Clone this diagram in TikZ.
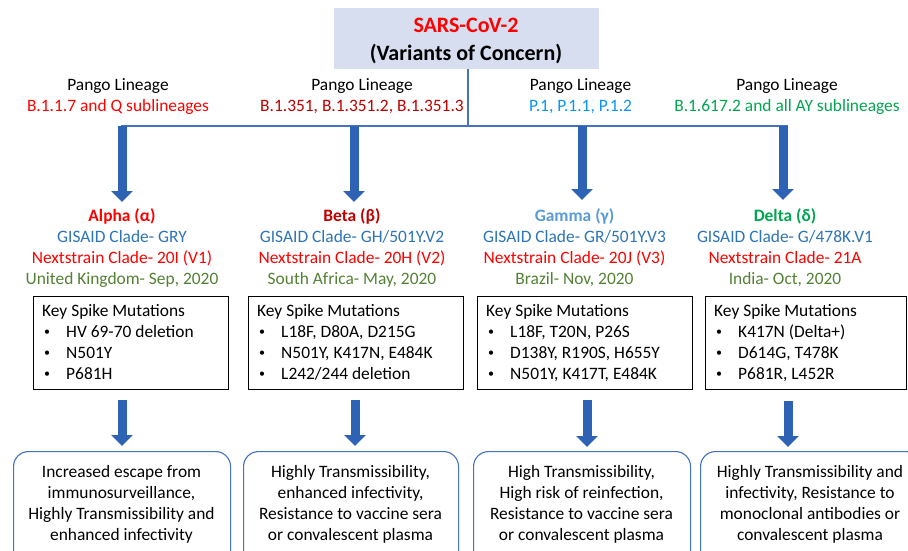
\documentclass[tikz,border=0pt]{standalone}
\usepackage{fontspec}
\setmainfont{Carlito}
\usetikzlibrary{arrows.meta}
\definecolor{titlefill}{HTML}{D7DEF0}
\definecolor{linkblue}{HTML}{4472C4}
\definecolor{arrowblue}{HTML}{2E62B5}
\definecolor{vred}{HTML}{FF0000}
\definecolor{dred}{HTML}{C00000}
\definecolor{gblue}{HTML}{2E75B6}
\definecolor{lblue}{HTML}{5B9BD5}
\definecolor{pblue}{HTML}{0A96EE}
\definecolor{vgreen}{HTML}{00A650}
\definecolor{olive}{HTML}{548235}
\newcommand\fs{\fontsize{17.4}{21}\selectfont}
\newcommand\mutbox[7]{%
  \node[mbox, minimum width={#3-#2}, minimum height=93, anchor=north west] (#1) at (#2,296) {};
  \node[ltxt] (#1k) at (#2+9,316) {Key Spike Mutations};
  \node[btxt] (#1b1) at (#2+11,335) {•};
  \node[ltxt] (#1i1) at (#2+33,337) {#4};
  \node[btxt] (#1b2) at (#2+11,356) {•};
  \node[ltxt] (#1i2) at (#2+33,358) {#5};
  \node[btxt] (#1b3) at (#2+11,377) {•};
  \node[ltxt] (#1i3) at (#2+33,379) {#6};
}
\newcommand\effbox[8]{%
  \node[ebox, minimum width={#3-#2}, minimum height=120, anchor=north west] (#1) at (#2,451) {};
  \node[ctxt] (#1l1) at ({(#2+#3)/2},477) {#4};
  \node[ctxt] (#1l2) at ({(#2+#3)/2},498) {#5};
  \node[ctxt] (#1l3) at ({(#2+#3)/2},519) {#6};
  \node[ctxt] (#1l4) at ({(#2+#3)/2},540) {#7};
}
\newcommand\variant[7]{%
  \node[ctxt, font=\fs\bfseries, text=#3] (#1n) at (#2,221) {#4};
  \node[ctxt, text=gblue] (#1g) at (#2,242) {GISAID Clade- #5};
  \node[ctxt, text=vred] (#1s) at (#2,263) {Nextstrain Clade- #6};
  \node[ctxt, text=olive] (#1c) at (#2,284) {#7};
}
\newcommand\pango[4]{%
  \node[ctxt] (#1p) at (#2,91) {Pango Lineage};
  \node[ctxt, text=#3] (#1q) at (#2,111) {#4};
}
\begin{document}
\begin{tikzpicture}[x=1pt,y=-1pt,
  ltxt/.style={anchor=base west, inner sep=0pt, font=\fs},
  btxt/.style={anchor=base west, inner sep=0pt, font=\fontsize{12}{14}\selectfont},
  ctxt/.style={anchor=base, inner sep=0pt, font=\fs},
  mbox/.style={draw=black, line width=1.1pt, inner sep=0pt},
  ebox/.style={draw=linkblue, line width=1.1pt, rounded corners=15pt, inner sep=0pt},
  bigarrow/.style={draw=arrowblue, line width=9pt, -{Triangle[width=21pt,length=11pt]}},
  link/.style={draw=linkblue, line width=2pt}]
\useasboundingbox (0,0) rectangle (908,551);
\clip (0,0) rectangle (908,551);
\fill[white] (0,0) rectangle (908,551);
% title
\node[fill=titlefill, minimum width=265, minimum height=61, inner sep=0pt, anchor=north west] (title) at (334,8) {};
\node[ctxt, font=\fontsize{22}{26}\selectfont\bfseries, text=vred] (t1) at (466,33) {SARS-CoV-2};
\node[ctxt, font=\fontsize{22}{26}\selectfont\bfseries] (t2) at (466,61) {(Variants of Concern)};
% tree lines
\coordinate (hub) at (468,126);
\coordinate (hl) at (122,126);
\coordinate (hr) at (787,126);
\draw[link] (title.south -| hub) -- (hub);
\draw[link] ([xshift=-1pt]hl) -- ([xshift=1pt]hr);
% pango
\pango{A}{118}{vred}{B.1.1.7 and Q sublineages}
\pango{B}{362}{dred}{B.1.351, B.1.351.2, B.1.351.3}
\pango{C}{580.5}{pblue}{P.1, P.1.1, P.1.2}
\pango{D}{787}{vgreen}{B.1.617.2 and all AY sublineages}
% variants
\variant{A}{122}{vred}{Alpha (α)}{GRY}{20I (V1)}{United Kingdom- Sep, 2020}
\variant{B}{352}{dred}{Beta (β)}{GH/501Y.V2}{20H (V2)}{South Africa- May, 2020}
\variant{C}{574.5}{lblue}{Gamma (γ)}{GR/501Y.V3}{20J (V3)}{Brazil- Nov, 2020}
\variant{D}{785}{vgreen}{Delta (δ)}{G/478K.V1}{21A}{India- Oct, 2020}
% top arrows
\coordinate (sA) at (122,126); \coordinate (eA) at (122,202);
\coordinate (sB) at (354,126); \coordinate (eB) at (354,202);
\coordinate (sC) at (582,126); \coordinate (eC) at (582,200);
\coordinate (sD) at (783,126); \coordinate (eD) at (783,200);
\foreach \v in {A,B,C,D} \draw[bigarrow] (s\v) -- (e\v);
% mutation boxes
\mutbox{mA}{33}{228}{HV 69-70 deletion}{N501Y}{P681H}{}
\mutbox{mB}{248}{463}{L18F, D80A, D215G}{N501Y, K417N, E484K}{L242/244 deletion}{}
\mutbox{mC}{477}{692}{L18F, T20N, P26S}{D138Y, R190S, H655Y}{N501Y, K417T, E484K}{}
\mutbox{mD}{705}{906}{K417N (Delta+)}{D614G, T478K}{P681R, L452R}{}
% bottom arrows
\coordinate (uA) at (122,400); \coordinate (vA) at (122,446);
\coordinate (uB) at (355,400); \coordinate (vB) at (355,446);
\coordinate (uC) at (587,400); \coordinate (vC) at (587,447);
\coordinate (uD) at (788,401); \coordinate (vD) at (788,447);
\foreach \v in {A,B,C,D} \draw[bigarrow] (u\v) -- (v\v);
% effect boxes
\effbox{fA}{13}{230}{Increased escape from}{immunosurveillance,}{Highly Transmissibility and}{enhanced infectivity}{}
\effbox{fB}{243}{458}{Highly Transmissibility,}{enhanced infectivity,}{Resistance to vaccine sera}{or convalescent plasma}{}
\effbox{fC}{473}{690}{High Transmissibility,}{High risk of reinfection,}{Resistance to vaccine sera}{or convalescent plasma}{}
\effbox{fD}{700}{920}{Highly Transmissibility and}{infectivity, Resistance to}{monoclonal antibodies or}{convalescent plasma}{}
\end{tikzpicture}
\end{document}
